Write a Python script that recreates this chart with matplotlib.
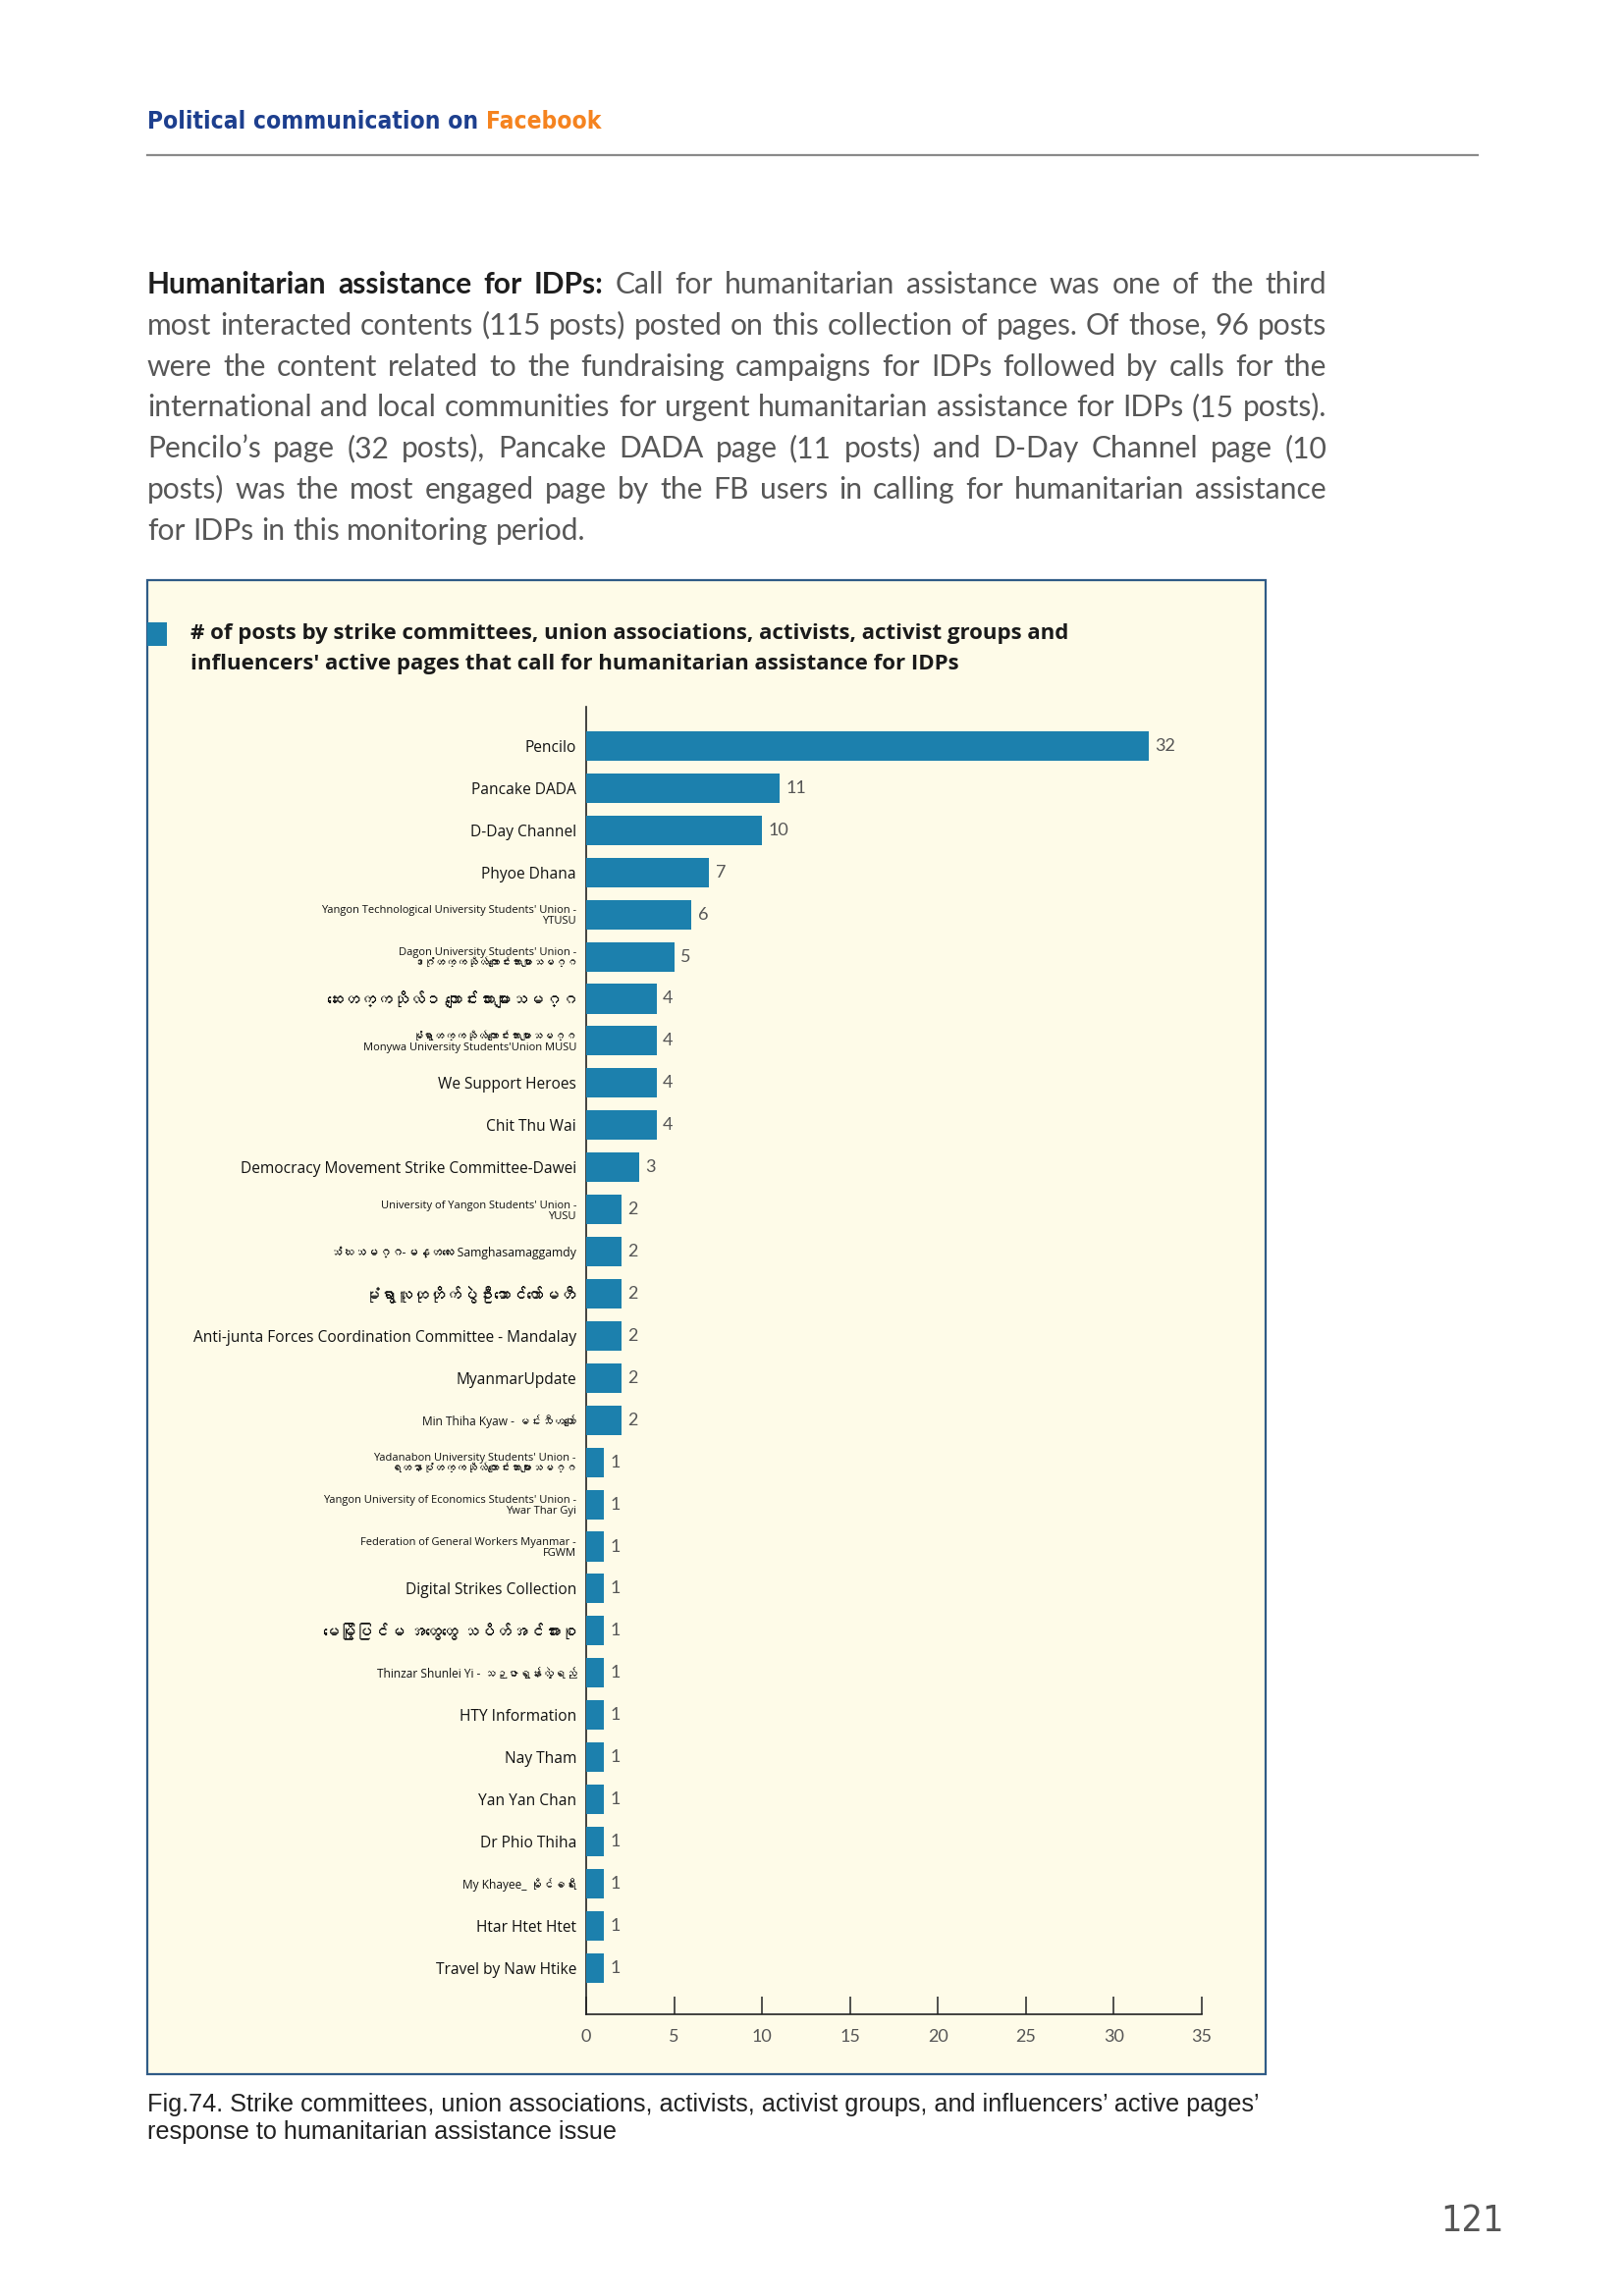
import matplotlib
matplotlib.use("Agg")
import matplotlib.pyplot as plt
from matplotlib import font_manager, ft2font
from matplotlib.patches import Rectangle
from matplotlib.lines import Line2D
import numpy as np

W, H = 1654, 2339
DPI = 200

# ---- data ----
pages = [
    "Pencilo",
    "Pancake DADA",
    "D-Day Channel",
    "Phyoe Dhana",
    "Yangon Technological University Students' Union -\nYTUSU",
    "Dagon University Students' Union -\nဒဂုံတက္ကသိုလ်ကျောင်းသားများသမဂ္ဂ",
    "ဆေးတက္ကသိုလ်၁ ကျောင်းသားများသမဂ္ဂ",
    "မုံရွာတက္ကသိုလ်ကျောင်းသားများသမဂ္ဂ\nMonywa University Students'Union MUSU",
    "We Support Heroes",
    "Chit Thu Wai",
    "Democracy Movement Strike Committee-Dawei",
    "University of Yangon Students' Union -\nYUSU",
    "သံဃသမဂ္ဂ-မန္တလေး Samghasamaggamdy",
    "မုံရွာလူထုတိုက်ပွဲဦးဆောင်ကော်မတီ",
    "Anti-junta Forces Coordination Committee - Mandalay",
    "MyanmarUpdate",
    "Min Thiha Kyaw - မင်းသီဟကျော်",
    "Yadanabon University Students' Union -\nရတနာပုံတက္ကသိုလ်ကျောင်းသားများသမဂ္ဂ",
    "Yangon University of Economics Students' Union -\nYwar Thar Gyi",
    "Federation of General Workers Myanmar -\nFGWM",
    "Digital Strikes Collection",
    "မေမြို့ပြင်မ အထွေထွေ သပိတ်အင်အားစု",
    "Thinzar Shunlei Yi - သဉ္ဇာရွှန်းလဲ့ရည်",
    "HTY Information",
    "Nay Tham",
    "Yan Yan Chan",
    "Dr Phio Thiha",
    "My Khayee_ မိုင်ခရီး",
    "Htar Htet Htet",
    "Travel by Naw Htike",
]
posts = [32, 11, 10, 7, 6, 5, 4, 4, 4, 4, 3, 2, 2, 2, 2, 2, 2,
         1, 1, 1, 1, 1, 1, 1, 1, 1, 1, 1, 1, 1]
xticks = [0, 5, 10, 15, 20, 25, 30, 35]

header_left = "Political communication on"
header_right = "Facebook"
chart_title = ("# of posts by strike committees, union associations, activists, activist groups and\n"
               "influencers' active pages that call for humanitarian assistance for IDPs")
caption = ("Fig.74. Strike committees, union associations, activists, activist groups, and influencers’ active pages’\n"
           "response to humanitarian assistance issue")
page_no = "121"
para_lines = [
    "Humanitarian assistance for IDPs: Call for humanitarian assistance was one of the third",
    "most interacted contents (115 posts) posted on this collection of pages. Of those, 96 posts",
    "were the content related to the fundraising campaigns for IDPs followed by calls for the",
    "international and local communities for urgent humanitarian assistance for IDPs (15 posts).",
    "Pencilo’s page (32 posts), Pancake DADA page (11 posts) and D-Day Channel page (10",
    "posts) was the most engaged page by the FB users in calling for humanitarian assistance",
    "for IDPs in this monitoring period.",
]

# smaller font for the long / two-line page names
label_small = {4: 4.0, 5: 4.0, 7: 4.0, 11: 4.0, 12: 4.4, 16: 4.3, 17: 4.0,
               18: 4.0, 19: 4.0, 22: 4.3, 27: 4.3}
label_mm_only = [6, 13, 21]

BAR = '#1c80ad'
CREAM = '#fefbe8'


def find_family(ch):
    # look for any installed font that can draw the given character
    for f in font_manager.fontManager.ttflist:
        try:
            if ord(ch) in ft2font.FT2Font(f.fname).get_charmap():
                return f.name
        except Exception:
            pass
    return None


LABEL_FONT = ['Open Sans', 'DejaVu Sans']
mm = find_family('က')
if mm:
    LABEL_FONT.append(mm)


def fx(px):
    return px / W


def fy(py):
    return 1 - py / H


fig = plt.figure(figsize=(W / DPI, H / DPI), dpi=DPI)
fig.patch.set_facecolor('white')
r = fig.canvas.get_renderer()


def width_of(t):
    return t.get_window_extent(r).width


def fit(t, target):
    t.set_fontsize(t.get_fontsize() * target / width_of(t))


NARROW = ['Liberation Sans Narrow', 'DejaVu Sans']

# ---- page header ----
hl = fig.text(fx(150), fy(131), header_left, family=NARROW, weight='bold', stretch='condensed',
              size=10.5, color='#1d3f8e', va='baseline')
hr = fig.text(0, fy(131), header_right, family=NARROW, weight='bold', stretch='condensed',
              size=10.5, color='#f5831f', va='baseline')
probe = fig.text(0, 0, 'a a', family=NARROW, weight='bold', stretch='condensed', size=10.5)
probe2 = fig.text(0, 0, 'aa', family=NARROW, weight='bold', stretch='condensed', size=10.5)
sp = width_of(probe) - width_of(probe2)
probe.remove(); probe2.remove()
scale = 460 / (width_of(hl) + sp + width_of(hr))
for t in (hl, hr):
    t.set_fontsize(10.5 * scale)
hr.set_x(fx(150 + width_of(hl) + sp * scale))
fig.add_artist(Line2D([fx(150), fx(1505)], [fy(158), fy(158)], color='#8a8a8a', lw=0.8))

# ---- justified paragraph ----
PX0, PX1 = 150, 1351
rows = []
for k, line in enumerate(para_lines):
    row = []
    for j, w in enumerate(line.split()):
        bold = k == 0 and j < 4
        row.append(fig.text(0, 0, w, fontsize=10, family='Lato',
                            fontweight='bold' if bold else 'normal',
                            color='#1e1e1e' if bold else '#575757', va='baseline'))
    rows.append(row)
probe = fig.text(0, 0, 'a a', fontsize=10, family='Lato')
probe2 = fig.text(0, 0, 'aa', fontsize=10, family='Lato')
sp = width_of(probe) - width_of(probe2)
probe.remove(); probe2.remove()
nat = [sum(width_of(t) for t in row) + sp * (len(row) - 1) for row in rows]
s = (PX1 - PX0) / max(nat) * 0.995
for row in rows:
    for t in row:
        t.set_fontsize(10 * s)
sp *= s
for k, row in enumerate(rows):
    ws = [width_of(t) for t in row]
    if k < len(rows) - 1:
        gap = (PX1 - PX0 - sum(ws)) / (len(row) - 1)
    else:
        gap = sp
    x = PX0
    base = 299 + k * 41.8
    for t, w in zip(row, ws):
        t.set_position((fx(x), fy(base)))
        x += w + gap

# ---- chart panel ----
fig.add_artist(Rectangle((fx(150), fy(2113)), fx(1289) - fx(150), (2113 - 591) / H,
                         transform=fig.transFigure, facecolor=CREAM, edgecolor='#2f5b86',
                         lw=0.8, zorder=0))
fig.add_artist(Rectangle((fx(150), fy(658)), fx(170) - fx(150), 24 / H,
                         transform=fig.transFigure, facecolor=BAR, edgecolor='none'))
tt = fig.text(fx(194), fy(661), chart_title, family='Open Sans', weight='bold',
              size=8, color='#1a1a1a', va='center', linespacing=1.6)
fit(tt, 898)

ax = fig.add_axes([fx(597), fy(2052), (1224 - 597) / W, (2052 - 720) / H])
ax.set_facecolor('none')
y = np.arange(len(pages))
bars = ax.barh(y, posts, height=0.7, color=BAR, zorder=3)
ax.set_xlim(0, 35)
ax.set_ylim(len(pages) - 1 + 1.1, -0.93)
ax.set_xticks(xticks)
ax.set_yticks(y)
ax.set_yticklabels(pages, fontsize=5.6, family=LABEL_FONT, color='#111111')
for i, lab in enumerate(ax.get_yticklabels()):
    lab.set_linespacing(1.0)
    if i in label_small:
        lab.set_fontsize(label_small[i])
    if i in label_mm_only:
        lab.set_fontsize(6.0)
        lab.set_fontweight('bold')
ax.tick_params(axis='y', length=0, pad=3.6)
ax.tick_params(axis='x', direction='in', length=6.5, width=0.6, color='#333333',
               pad=5.5, labelsize=6.5, labelcolor='#555555')
for lab in ax.get_xticklabels():
    lab.set_fontfamily('Lato')
for side in ('top', 'right'):
    ax.spines[side].set_visible(False)
for side in ('left', 'bottom'):
    ax.spines[side].set_linewidth(0.6)
    ax.spines[side].set_color('#222222')
ax.bar_label(bars, padding=2.2, fontsize=6.5, color='#555555', family='Lato')

# ---- caption and page number ----
cap = fig.text(fx(150), fy(2158), caption, family='Liberation Sans', size=8.2,
               color='#222222', va='center', linespacing=1.25)
fit(cap, 1136)
fig.text(fx(1532), fy(2273), page_no, family=NARROW, stretch='condensed', size=13.5,
         color='#555555', ha='right', va='baseline')

fig.savefig('out.png', dpi=DPI, facecolor='white')
